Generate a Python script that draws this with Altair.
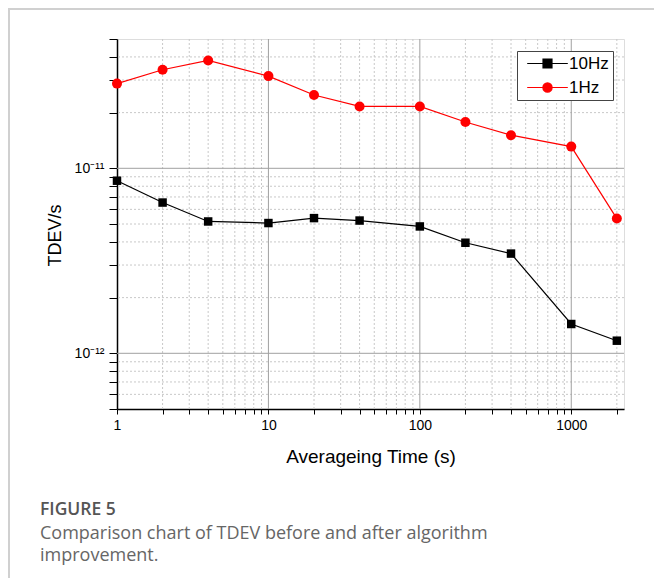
import altair as alt
import pandas as pd

# ---- data ----
tau = [1, 2, 4, 10, 20, 40, 100, 200, 400, 1000, 2000]
tdev_10hz = [8.57e-12, 6.53e-12, 5.16e-12, 5.06e-12, 5.38e-12, 5.22e-12,
             4.85e-12, 3.96e-12, 3.46e-12, 1.44e-12, 1.17e-12]
tdev_1hz = [2.87e-11, 3.41e-11, 3.83e-11, 3.15e-11, 2.49e-11, 2.16e-11,
            2.16e-11, 1.78e-11, 1.51e-11, 1.31e-11, 5.35e-12]
series_names = ["10Hz", "1Hz"]
series_colors = ["black", "red"]
series_shapes = ["square", "circle"]
series_sizes = [72, 100]

x_major = [1, 10, 100, 1000]
x_minor = [2, 3, 4, 5, 6, 7, 8, 9, 20, 30, 40, 50, 60, 70, 80, 90,
           200, 300, 400, 500, 600, 700, 800, 900, 2000]
y_major = [1e-12, 1e-11]
y_minor = [6e-13, 7e-13, 8e-13, 9e-13,
           2e-12, 3e-12, 4e-12, 5e-12, 6e-12, 7e-12, 8e-12, 9e-12,
           2e-11, 3e-11, 4e-11]
x_tick_values = sorted(x_major + x_minor)
y_tick_values = sorted([5e-13] + y_minor + y_major + [5e-11])

x_domain = [1, 2230]
y_domain = [5e-13, 5e-11]

caption_title = "FIGURE 5"
caption_lines = ["Comparison chart of TDEV before and after algorithm", "improvement."]

W, H = 507, 370
FONT = "Liberation Sans, Arial"

df = pd.DataFrame({
    "tau": tau * 2,
    "tdev": tdev_10hz + tdev_1hz,
    "series": [series_names[0]] * len(tau) + [series_names[1]] * len(tau),
})

xs = alt.Scale(type="log", domain=x_domain, nice=False)
ys = alt.Scale(type="log", domain=y_domain, nice=False)

x_axis = alt.Axis(
    title="Averageing Time (s)", values=x_tick_values,
    labelExpr="indexof([1,10,100,1000], datum.value) >= 0 ? format(datum.value, 'd') : ''",
    labelOverlap=False, labelFlush=False, grid=False,
    tickSize=5, tickColor="black", domainColor="black", domainWidth=1.5,
    labelFont=FONT, labelFontSize=14, labelColor="black", labelPadding=4,
    titleFont=FONT, titleFontSize=19, titleFontWeight="normal", titleColor="black",
    titlePadding=15,
)
y_axis = alt.Axis(
    title="TDEV/s", values=y_tick_values,
    labelExpr="datum.value == 1e-11 ? '10\u207b\u00b9\u00b9' : (datum.value == 1e-12 ? '10\u207b\u00b9\u00b2' : '')",
    labelOverlap=False, labelFlush=False, grid=False,
    tickSize=8, tickColor="black", domainColor="black", domainWidth=1.5,
    labelFont=FONT, labelFontSize=14, labelColor="black", labelPadding=5,
    titleFont=FONT, titleFontSize=18, titleFontWeight="normal", titleColor="black",
    titlePadding=10, titleY=196,
)

sym_shape = ("datum.value == '10Hz' ? 'M-2.9,0H2.9M-0.64,-0.64H0.64V0.64H-0.64Z' : "
             "'M-2.9,0H2.9M0.66,0A0.66,0.66,0,1,1,-0.66,0A0.66,0.66,0,1,1,0.66,0Z'")
sym_color = "datum.value == '10Hz' ? 'black' : 'red'"

color = alt.Color(
    "series:N",
    scale=alt.Scale(domain=series_names, range=series_colors),
    sort=series_names,
    legend=alt.Legend(
        title=None, orient="none", legendX=400, legendY=12,
        direction="vertical",
        strokeColor="#444", padding=4, fillColor="white",
        symbolSize=196, symbolStrokeWidth=1.2,
        symbolType=alt.ExprRef(expr=sym_shape),
        symbolFillColor=alt.ExprRef(expr=sym_color),
        symbolStrokeColor=alt.ExprRef(expr=sym_color),
        symbolOpacity=1,
        symbolOffset=18, labelOffset=13, rowPadding=6,
        labelFont=FONT, labelFontSize=17, labelColor="black",
    ),
)

grid_x_minor = alt.Chart(pd.DataFrame({"v": x_minor})).mark_rule(
    color="#c8c8c8", strokeDash=[2, 2], strokeWidth=1).encode(x=alt.X("v:Q", scale=xs, axis=x_axis))
grid_x_major = alt.Chart(pd.DataFrame({"v": x_major[1:]})).mark_rule(
    color="#a0a0a0", strokeWidth=1).encode(x=alt.X("v:Q", scale=xs))
grid_y_minor = alt.Chart(pd.DataFrame({"v": y_minor})).mark_rule(
    color="#c8c8c8", strokeDash=[2, 2], strokeWidth=1).encode(y=alt.Y("v:Q", scale=ys, axis=y_axis))
grid_y_major = alt.Chart(pd.DataFrame({"v": y_major})).mark_rule(
    color="#a0a0a0", strokeWidth=1).encode(y=alt.Y("v:Q", scale=ys))

base = alt.Chart(df).encode(
    x=alt.X("tau:Q", scale=xs, axis=x_axis),
    y=alt.Y("tdev:Q", scale=ys, axis=y_axis),
    color=color,
)
lines = base.mark_line(strokeWidth=1.2).encode(detail="series:N")
point_layers = [
    base.transform_filter(alt.datum.series == name).mark_point(
        filled=True, opacity=1, shape=shp, size=sz)
    for name, shp, sz in zip(series_names, series_shapes, series_sizes)
]

# light card border of the figure page
card = pd.DataFrame({"k": [0]})
card_left = alt.Chart(card).mark_rule(color="#d0d0d0", strokeWidth=2).encode(
    x=alt.value(-108), y=alt.value(-31), y2=alt.value(H + 170))
card_top = alt.Chart(card).mark_rule(color="#d0d0d0", strokeWidth=2).encode(
    x=alt.value(-109), x2=alt.value(W + 40), y=alt.value(-30))

chart = alt.layer(
    grid_x_minor, grid_y_minor, grid_x_major, grid_y_major, lines, *point_layers,
    card_left, card_top
).properties(
    width=W, height=H,
    autosize=alt.AutoSizeParams(type="none"),
    padding={"left": 109, "top": 31, "right": 30, "bottom": 169},
    title=alt.TitleParams(
        text=caption_title, subtitle=caption_lines,
        orient="bottom", anchor="start", frame="group", dx=-77, offset=-79,
        baseline="top",
        font="Open Sans", fontSize=17.5, fontWeight=600, color="#555555",
        subtitleFont="Open Sans", subtitleFontSize=18, subtitleColor="#666666",
        subtitleFontWeight="normal", subtitleLineHeight=22.5, subtitlePadding=6,
    ),
).configure_view(
    stroke="black", strokeWidth=1.5
).configure(background="white")

chart.save("out.html", embed_options={"renderer": "svg", "actions": False})
